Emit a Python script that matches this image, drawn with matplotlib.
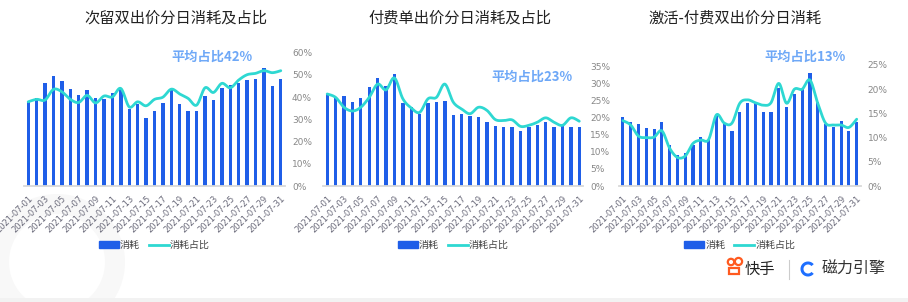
import numpy as np
import matplotlib
matplotlib.use("Agg")
import matplotlib.pyplot as plt
from matplotlib.patches import Rectangle, Circle, Wedge
from matplotlib.lines import Line2D

plt.rcParams['font.family'] = ['Noto Sans CJK SC', 'DejaVu Sans']

dates = [f"2021-07-{d:02d}" for d in range(1, 32)]

titles = ["次留双出价分日消耗及占比", "付费单出价分日消耗及占比", "激活-付费双出价分日消耗"]
avg_labels = ["平均占比42%", "平均占比23%", "平均占比13%"]

cost1 = [84.7, 88.4, 102.7, 110.4, 105.4, 97.4, 90.7, 95.7, 87.7, 87.0, 93.0, 96.7, 77.0, 81.7,
         68.0, 75.0, 83.0, 95.7, 81.7, 75.0, 75.0, 90.4, 86.0, 97.7, 101.0, 103.4, 105.7, 106.7,
         117.7, 100.0, 106.7]
ratio1 = [37.9, 39.0, 38.7, 43.5, 42.4, 39.0, 37.6, 40.8, 37.4, 40.5, 40.1, 43.9, 35.6, 37.9,
          36.1, 39.0, 40.0, 43.6, 41.4, 39.4, 36.4, 44.2, 42.1, 46.2, 44.2, 47.7, 50.1, 50.7,
          51.9, 51.0, 51.9]

cost2 = [92.0, 87.7, 89.7, 84.0, 88.3, 99.0, 108.0, 100.3, 112.0, 83.3, 79.0, 71.7, 83.3, 84.3,
         84.7, 70.7, 72.0, 69.7, 68.7, 64.0, 60.0, 59.3, 58.7, 55.3, 59.0, 61.3, 64.0, 59.3,
         60.0, 58.7, 59.0]
ratio2 = [27.0, 26.0, 23.1, 22.0, 23.1, 26.0, 29.9, 28.2, 31.7, 25.6, 22.9, 21.6, 25.6, 26.0,
          29.9, 24.6, 22.6, 21.2, 23.1, 22.2, 19.5, 19.2, 19.4, 17.5, 17.8, 18.7, 20.0, 18.7,
          17.8, 20.0, 19.0]

cost3 = [69.0, 64.0, 62.0, 57.7, 57.0, 64.0, 41.0, 31.0, 32.7, 41.0, 48.7, 46.0, 71.0, 62.0,
         55.3, 74.0, 83.3, 84.3, 74.3, 73.7, 97.7, 79.3, 92.0, 96.7, 112.7, 83.7, 62.0, 59.3,
         65.0, 55.3, 64.0]
ratio3 = [13.5, 12.6, 10.3, 10.0, 10.1, 11.4, 7.8, 5.9, 6.2, 8.8, 9.5, 9.6, 14.7, 13.0,
          13.0, 17.1, 17.8, 17.2, 16.7, 17.2, 21.2, 17.1, 20.0, 20.0, 21.9, 17.1, 13.0, 12.6,
          12.6, 12.1, 13.8]

ratio_max = [60, 35, 25]
ratio_step = [10, 5, 5]

W, H = 908, 302
BAR_C = '#1f5ee8'
LINE_C = '#2ed8d2'
ANN_C = '#6ea8f7'


def catmull(x, y, n=16):
    x = np.asarray(x, float)
    y = np.asarray(y, float)
    px = np.concatenate([[x[0]], x, [x[-1]]])
    py = np.concatenate([[y[0]], y, [y[-1]]])
    xs, ys = [], []
    t = np.linspace(0, 1, n, endpoint=False)
    for i in range(1, len(px) - 2):
        p0, p1, p2, p3 = py[i - 1], py[i], py[i + 1], py[i + 2]
        q0, q1, q2, q3 = px[i - 1], px[i], px[i + 1], px[i + 2]
        a = 0.5
        m1y = a * (p2 - p0)
        m2y = a * (p3 - p1)
        m1x = a * (q2 - q0)
        m2x = a * (q3 - q1)
        h00 = 2 * t**3 - 3 * t**2 + 1
        h10 = t**3 - 2 * t**2 + t
        h01 = -2 * t**3 + 3 * t**2
        h11 = t**3 - t**2
        xs.append(h00 * q1 + h10 * m1x + h01 * q2 + h11 * m2x)
        ys.append(h00 * p1 + h10 * m1y + h01 * p2 + h11 * m2y)
    xs.append([x[-1]])
    ys.append([y[-1]])
    return np.concatenate(xs), np.concatenate(ys)


fig = plt.figure(figsize=(W / 100, H / 100), dpi=100)
fig.patch.set_facecolor('white')

# faint watermark ring and bottom strip
bg = fig.add_axes([0, 0, 1, 1], zorder=-10)
bg.set_xlim(0, W)
bg.set_ylim(H, 0)
bg.axis('off')
bg.add_patch(Wedge((57, 262), 68, 0, 360, width=20, color='#f8f8f8', lw=0))
bg.add_patch(Rectangle((0, 298), W, 4, color='#f2f2f2', lw=0))

panels = [
    dict(x0=24, x1=285, top=52.7, cost=cost1, ratio=ratio1, title_x=176, ann=(212, 57)),
    dict(x0=323, x1=583.5, top=66.7, cost=cost2, ratio=ratio2, title_x=460, ann=(532, 77)),
    dict(x0=619, x1=860.6, top=65.0, cost=cost3, ratio=ratio3, title_x=735, ann=(805, 57)),
]
base = 186

for i, p in enumerate(panels):
    left = p['x0'] / W
    width = (p['x1'] - p['x0']) / W
    bottom = (H - base) / H
    height = (base - p['top']) / H
    axb = fig.add_axes([left, bottom, width, height])
    n = len(dates)
    xs = np.arange(n)
    axb.bar(xs, p['cost'], width=0.4, color=BAR_C, zorder=2)
    axb.set_xlim(-0.5, n - 0.5)
    axb.set_ylim(0, base - p['top'])
    axb.set_yticks([])
    for s in ['top', 'right', 'left']:
        axb.spines[s].set_visible(False)
    axb.spines['bottom'].set_color('#d9d9d9')
    axb.spines['bottom'].set_linewidth(1.3)
    axb.set_xticks(xs[::2])
    axb.set_xticklabels(dates[::2], rotation=45, ha='right', va='top',
                        rotation_mode='anchor', fontsize=6, color='#6a6a7a',
                        family='DejaVu Sans')
    axb.tick_params(axis='x', length=0, pad=6)

    axr = axb.twinx()
    sx, sy = catmull(xs, p['ratio'])
    axr.plot(sx, sy, color=LINE_C, lw=2.0, zorder=3, solid_capstyle='round')
    axr.set_ylim(0, ratio_max[i])
    axr.set_xlim(-0.5, n - 0.5)
    ticks = np.arange(0, ratio_max[i] + 0.1, ratio_step[i])
    axr.set_yticks(ticks)
    axr.set_yticklabels([f"{int(t)}%" for t in ticks], fontsize=6.5, color='#888888',
                        family='DejaVu Sans')
    axr.tick_params(axis='y', length=0, pad=5)
    for s in ['top', 'right', 'left', 'bottom']:
        axr.spines[s].set_visible(False)

    fig.text(p['title_x'] / W, 1 - 18 / H, titles[i], ha='center', va='center',
             fontsize=11, color='#222222')
    fig.text(p['ann'][0] / W, 1 - p['ann'][1] / H, avg_labels[i], ha='center', va='center',
             fontsize=9.5, color=ANN_C, fontweight='bold')

    handles = [Rectangle((0, 0), 1, 1, color=BAR_C),
               Line2D([0], [0], color=LINE_C, lw=2)]
    cx = (p['x0'] + p['x1']) / 2 / W
    fig.legend(handles, ['消耗', '消耗占比'], loc='center', bbox_to_anchor=(cx, 1 - 245 / H),
               ncol=2, frameon=False, fontsize=7.2, handlelength=2.0, handleheight=0.6,
               handletextpad=0.1, columnspacing=0.9, labelcolor='#444444')

# logo
bg.add_patch(Circle((731, 262), 3.2, fill=False, ec='#ff5a1f', lw=1.6))
bg.add_patch(Circle((738.5, 261.5), 3.6, fill=False, ec='#ff5a1f', lw=1.6))
bg.add_patch(Rectangle((729, 267.5), 10, 6.5, fill=False, ec='#ff5a1f', lw=1.6))
bg.text(745, 269, '快手', fontsize=11, color='#222222', va='center', ha='left')
bg.plot([789, 789], [260, 279], color='#cccccc', lw=0.8)
bg.add_patch(Wedge((808, 269), 7.5, 40, 320, width=3, color='#1e6fff', lw=0))
bg.text(822, 269, '磁力引擎', fontsize=11.5, color='#333333', va='center', ha='left')

fig.savefig('out.png', dpi=100, facecolor='white')
